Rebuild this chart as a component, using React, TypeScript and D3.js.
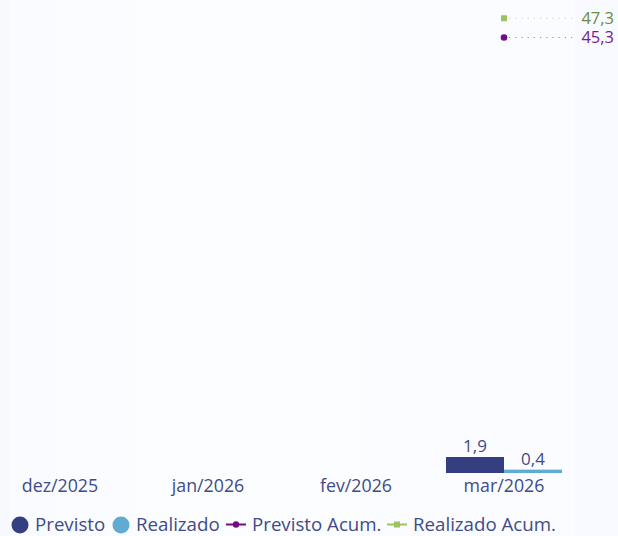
import React from "react";
import * as d3 from "d3";

const categories = ["dez/2025", "jan/2026", "fev/2026", "mar/2026"];
const previsto: (number | null)[] = [null, null, null, 1.9];
const realizado: (number | null)[] = [null, null, null, 0.4];
const previstoAcum: (number | null)[] = [null, null, null, 45.3];
const realizadoAcum: (number | null)[] = [null, null, null, 47.3];

const W = 618;
const H = 536;
const FONT = "'Segoe UI', 'Open Sans', 'Noto Sans', sans-serif";
const C_PREV = "#343f82";
const C_REAL = "#5fabd1";
const C_PREV_AC = "#740b85";
const C_REAL_AC = "#9bc35e";
const C_TEXT = "#3f4b8a";

const fmt = (v: number) => v.toFixed(1).replace(".", ",");

export default function App() {
  const x = d3.scaleBand<string>().domain(categories).range([-14, 578]).padding(0);
  const inner = d3.scaleBand<string>().domain(["p", "r"]).range([16, x.bandwidth() - 16]).padding(0);
  const yBar = d3.scaleLinear().domain([0, 56.2]).range([473, 0]);
  const yLine = d3.scaleLinear().domain([0, 49.2]).range([473, 0]);

  const bands = [
    { x0: 0, x1: 10, c: "#f6faff" },
    { x0: 10, x1: 57, c: "#f9fbff" },
    { x0: 57, x1: 135, c: "#fbfcff" },
    { x0: 135, x1: 360, c: "#fcfdff" },
    { x0: 360, x1: 575, c: "#fbfcff" },
    { x0: 575, x1: 618, c: "#f9faff" },
  ];

  const bw = x.bandwidth();
  const iw = inner.bandwidth();

  const lineLabels: { v: number; color: string; tcolor: string; shape: "sq" | "ci"; i: number }[] = [];
  previstoAcum.forEach((v, i) => { if (v != null) lineLabels.push({ v, color: C_PREV_AC, tcolor: "#7a1c8c", shape: "ci", i }); });
  realizadoAcum.forEach((v, i) => { if (v != null) lineLabels.push({ v, color: C_REAL_AC, tcolor: "#6a8c3c", shape: "sq", i }); });

  const accLine = d3.line<number | null>()
    .defined((d) => d != null)
    .x((_, i) => (x(categories[i]) as number) + bw / 2)
    .y((d) => yLine(d as number));

  return (
    <svg width={W} height={H} style={{ position: "absolute", left: 0, top: 0, fontFamily: FONT }}>
      {bands.map((b, i) => (
        <rect key={i} x={b.x0} y={0} width={b.x1 - b.x0} height={H} fill={b.c} />
      ))}
      {/* bars */}
      {categories.map((c, i) => {
        const x0 = x(c) as number;
        const p = previsto[i];
        const r = realizado[i];
        return (
          <g key={c}>
            {p != null && (
              <g>
                <rect x={x0 + (inner("p") as number)} y={yBar(p)} width={iw} height={yBar(0) - yBar(p)} fill={C_PREV} />
                <text x={x0 + (inner("p") as number) + iw / 2} y={yBar(p) - 5} textAnchor="middle" fontSize={17} fill={C_TEXT}>{fmt(p)}</text>
              </g>
            )}
            {r != null && (
              <g>
                <rect x={x0 + (inner("r") as number)} y={yBar(r)} width={iw} height={yBar(0) - yBar(r)} fill={C_REAL} />
                <text x={x0 + (inner("r") as number) + iw / 2} y={yBar(r) - 5} textAnchor="middle" fontSize={17} fill={C_TEXT}>{fmt(r)}</text>
              </g>
            )}
            <text x={x0 + bw / 2} y={492} textAnchor="middle" fontSize={17.8} fill={C_TEXT}>{c}</text>
          </g>
        );
      })}
      {/* lines */}
      <path d={accLine(previstoAcum) || ""} fill="none" stroke={C_PREV_AC} strokeWidth={2} />
      <path d={accLine(realizadoAcum) || ""} fill="none" stroke={C_REAL_AC} strokeWidth={2} />
      {lineLabels.map((l, k) => {
        const cx = (x(categories[l.i]) as number) + bw / 2;
        const cy = yLine(l.v);
        return (
          <g key={k}>
            <line x1={cx + 5} x2={577} y1={cy} y2={cy} stroke={l.color} strokeOpacity={0.55} strokeWidth={1} strokeDasharray="1.2 5" />
            {l.shape === "ci" ? (
              <circle cx={cx} cy={cy} r={3.3} fill={l.color} />
            ) : (
              <rect x={cx - 3} y={cy - 3} width={6} height={6} fill={l.color} />
            )}
            <text x={614} y={cy + 6} textAnchor="end" fontSize={16.5} fill={l.tcolor}>{fmt(l.v)}</text>
          </g>
        );
      })}
      {/* legend */}
      <g fontSize={18.7} fill={C_TEXT}>
        <circle cx={20} cy={525} r={8.5} fill={C_PREV} />
        <text x={35} y={531}>Previsto</text>
        <circle cx={121} cy={525} r={8.5} fill={C_REAL} />
        <text x={136} y={531}>Realizado</text>
        <line x1={226} x2={246} y1={524.5} y2={524.5} stroke={C_PREV_AC} strokeWidth={2} />
        <circle cx={236} cy={524.5} r={3.2} fill={C_PREV_AC} />
        <text x={252} y={531}>Previsto Acum.</text>
        <line x1={387} x2={407} y1={524.5} y2={524.5} stroke={C_REAL_AC} strokeWidth={2} />
        <rect x={394} y={521.5} width={6} height={6} fill={C_REAL_AC} />
        <text x={413} y={531}>Realizado Acum.</text>
      </g>
    </svg>
  );
}
